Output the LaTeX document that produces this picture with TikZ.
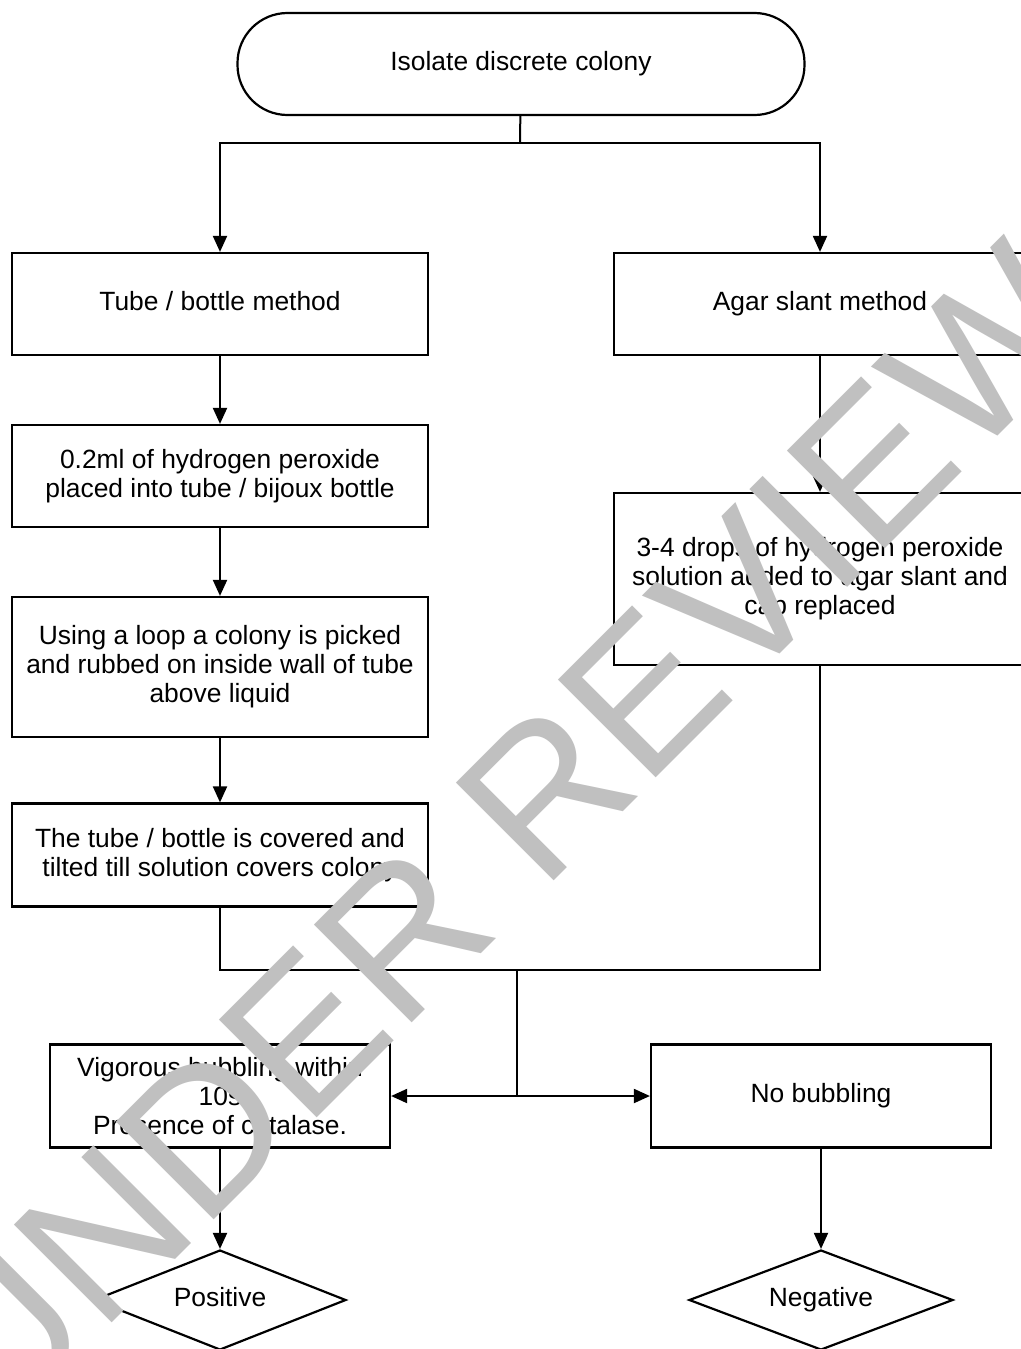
\documentclass[tikz,border=0pt]{standalone}
\usepackage{fontspec}
\setmainfont{Liberation Sans}
\usetikzlibrary{arrows.meta,positioning,shapes.geometric}
\definecolor{MarcaCinza}{RGB}{192,192,192}
\tikzset{
  caixa/.style={draw=black, fill=white, line width=1.1pt, align=center,
                font=\fontsize{13.2}{14.5}\selectfont, inner sep=2pt},
  umalinha/.style={text height=9.5pt, text depth=3pt},
  caixaesq/.style={caixa, minimum width=208pt},
  caixadir/.style={caixa, minimum width=206pt},
  caixafim/.style={caixa, minimum width=170pt, minimum height=51.5pt},
  terminal/.style={caixa, umalinha, rounded corners=25pt, minimum width=283.5pt, minimum height=51pt},
  losango/.style={diamond, aspect=2.5, draw=black, fill=white, line width=1.1pt, inner sep=0pt,
                  umalinha, font=\fontsize{13.2}{14.5}\selectfont, minimum height=50pt},
  seta/.style={-{Triangle[length=8pt,width=7pt]}, line width=1pt},
  linha/.style={line width=1pt},
  marca/.style={text=MarcaCinza, font=\fontsize{100.5}{100.5}\selectfont, rotate=45, inner sep=0pt},
}

\begin{document}
\begin{tikzpicture}[x=0.5pt, y=-0.5pt]
  \useasboundingbox (0,0) rectangle (1021,1349);
  \fill[white] (0,0) rectangle (1021,1349);

  % Inicio
  \node[terminal] (inicio) at (521,64) {Isolate discrete colony};

  % Metodo do tubo
  \node[caixaesq, umalinha, minimum height=51pt] (tubo) at (220,304) {Tube / bottle method};
  \node[caixaesq, minimum height=51pt] (peroxido) at (220,476) {0.2ml of hydrogen peroxide\\placed into tube / bijoux bottle};
  \node[caixaesq, minimum height=70pt] (alca) at (220,667) {Using a loop a colony is picked\\and rubbed on inside wall of tube\\above liquid};
  \node[caixaesq, minimum height=51.5pt] (tampa) at (220,855) {The tube / bottle is covered and\\tilted till solution covers colony};

  % Metodo do agar inclinado
  \node[caixadir, umalinha, minimum height=51pt] (agar) at (820,304) {Agar slant method};
  \node[caixadir, minimum height=86pt] (gotas) at (820,579) {3-4 drops of hydrogen peroxide\\solution added to agar slant and\\cap replaced};

  % Resultados
  \node[caixafim] (bolhas) at (220,1096) {Vigorous bubbling within\\10s\\Presence of catalase.};
  \node[caixafim, umalinha] (semBolhas) at (821,1096) {No bubbling};
  \node[losango, minimum width=126pt] (positivo) at (220,1300) {Positive};
  \node[losango, minimum width=132pt] (negativo) at (821,1300) {Negative};

  % Ligacoes
  \coordinate (divide) at (520,143);
  \coordinate (junta) at (517,970);
  \coordinate (ramo) at (517,1096);
  \draw[linha] (inicio) -- (divide);
  \draw[seta] (divide) -| (tubo);
  \draw[seta] (divide) -| (agar);
  \draw[seta] (tubo) -- (peroxido);
  \draw[seta] (peroxido) -- (alca);
  \draw[seta] (alca) -- (tampa);
  \draw[seta] (agar) -- (gotas);
  \draw[linha] (tampa) |- (junta);
  \draw[linha] (gotas) |- (junta);
  \draw[linha] (junta) -- (ramo);
  \draw[seta] (ramo) -- (bolhas);
  \draw[seta] (ramo) -- (semBolhas);
  \draw[seta] (bolhas) -- (positivo);
  \draw[seta] (semBolhas) -- (negativo);

  % Marca d'agua
  \node[marca] (revisao) at (502,836) {UNDER REVIEW};
\end{tikzpicture}
\end{document}
